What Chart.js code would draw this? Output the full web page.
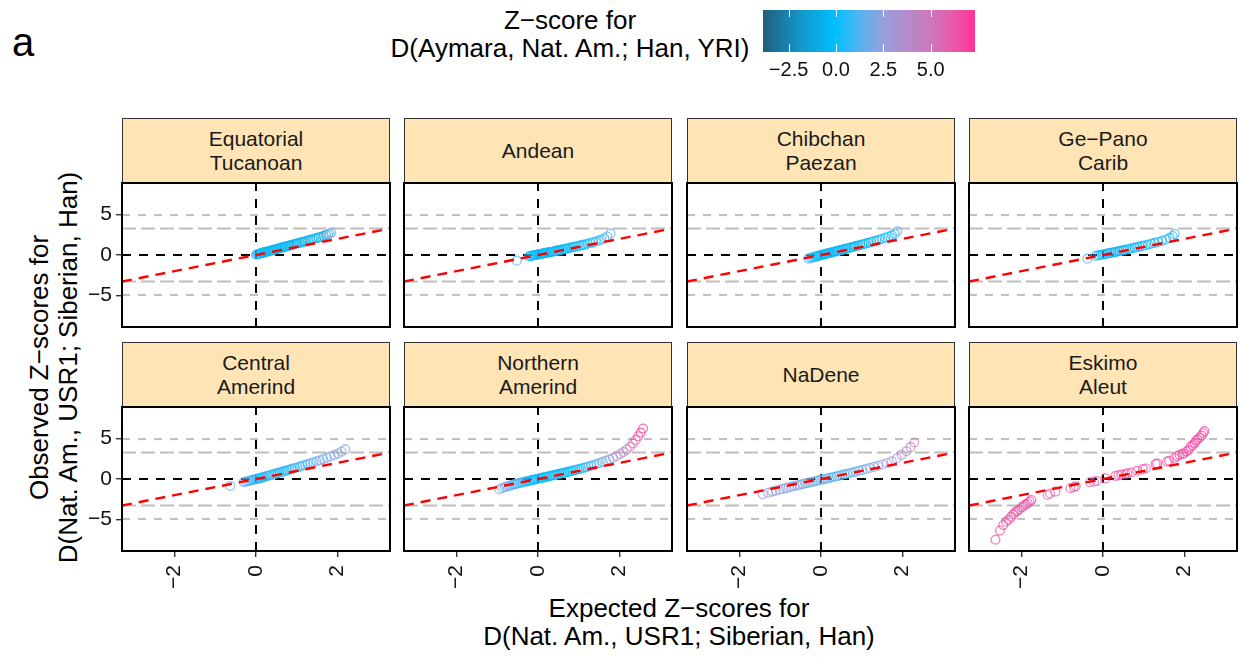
<!DOCTYPE html>
<html>
<head>
<meta charset="utf-8">
<title>Observed vs expected Z-scores by language group</title>
<script src="https://cdn.jsdelivr.net/npm/chart.js@4.4.1/dist/chart.umd.min.js"></script>
<style>
  html, body { margin: 0; padding: 0; background: #fff; }
  body { width: 1241px; height: 658px; position: relative; overflow: hidden;
         font-family: "Liberation Sans", Arial, Helvetica, sans-serif; color: #1a1a1a; }
  canvas { position: absolute; }
  .strip { position: absolute; box-sizing: border-box; background: #FFE4B5; border: 1px solid #333;
           display: flex; flex-direction: column; align-items: center; justify-content: center;
           font-size: 21px; line-height: 24px; color: #1a1a1a; text-align: center; white-space: nowrap; }
  .txt { position: absolute; white-space: nowrap; text-align: center; color: #000; }
</style>
</head>
<body>
<div class="txt" style="left:12px; top:22px; font-size:40px; line-height:40px; text-align:left;">a</div>
<div class="txt" style="left:360px; top:6px; width:420px; font-size:26px; line-height:28px;">Z−score for<br>D(Aymara, Nat. Am.; Han, YRI)</div>
<div class="txt" style="left:379px; top:595px; width:600px; font-size:26px; line-height:27.5px;">Expected Z−scores for<br>D(Nat. Am., USR1; Siberian, Han)</div>
<div class="txt" style="left:-197px; top:338.5px; width:500px; height:57px; font-size:26px; line-height:28.5px; transform:rotate(-90deg);">Observed Z−scores for<br>D(Nat. Am., USR1; Siberian, Han)</div>

<script>
// ---------------- data ----------------
const groupNames = [
  ['Equatorial', 'Tucanoan'], ['Andean'], ['Chibchan', 'Paezan'], ['Ge−Pano', 'Carib'],
  ['Central', 'Amerind'], ['Northern', 'Amerind'], ['NaDene'], ['Eskimo', 'Aleut']
];

// expected Z (x), observed Z (y), Aymara Z-score (colour) per group
const expEquTuc = [0.00,0.02,0.04,0.06,0.08,0.10,0.12,0.14,0.16,0.18,0.20,0.22,0.24,0.26,0.29,0.31,0.33,0.35,0.38,0.40,0.42,0.45,0.47,0.50,0.52,0.55,0.57,0.60,0.63,0.65,0.68,0.71,0.74,0.77,0.80,0.83,0.86,0.89,0.93,0.96,1.00,1.03,1.07,1.11,1.15,1.19,1.23,1.28,1.33,1.38,1.43,1.48,1.54,1.60,1.66,1.72,1.77,1.81,1.85];
const obsEquTuc = [0.03,0.07,0.10,0.13,0.15,0.18,0.21,0.24,0.26,0.29,0.32,0.35,0.37,0.40,0.44,0.47,0.50,0.53,0.57,0.59,0.62,0.66,0.69,0.73,0.76,0.80,0.83,0.87,0.91,0.94,0.98,1.02,1.06,1.10,1.14,1.18,1.22,1.26,1.32,1.36,1.42,1.46,1.51,1.57,1.62,1.68,1.73,1.80,1.87,1.94,2.01,2.09,2.18,2.27,2.37,2.48,2.58,2.67,2.78];
const colEquTuc = [1.6,1.2,0.8,0.5,0.2,0.4,-0.1,0.3,0.0,-0.4,0.2,-0.2,0.4,-0.6,0.1,-0.3,0.3,-0.8,0.0,0.2,-0.5,0.3,-0.2,-1.0,0.1,-0.4,0.4,-0.7,0.0,-0.3,0.2,-1.2,-0.1,0.3,-0.6,0.0,-0.9,0.2,-0.4,0.1,-1.4,-0.2,0.3,-0.7,0.0,-1.1,0.2,-0.5,-1.8,0.1,-0.8,-0.3,-1.5,0.2,-1.0,-2.0,0.6,1.4,2.4];

const expAndean = [-0.52,-0.22,-0.19,-0.16,-0.13,-0.10,-0.08,-0.06,-0.04,-0.02,0.00,0.02,0.04,0.06,0.08,0.10,0.12,0.14,0.16,0.18,0.20,0.23,0.26,0.29,0.32,0.35,0.38,0.41,0.44,0.47,0.50,0.53,0.56,0.60,0.63,0.67,0.70,0.74,0.78,0.82,0.86,0.90,0.95,1.00,1.05,1.10,1.16,1.22,1.28,1.35,1.42,1.49,1.56,1.63,1.70,1.78];
const obsAndean = [-0.70,-0.15,-0.12,-0.09,-0.06,-0.03,-0.01,0.01,0.03,0.04,0.06,0.08,0.10,0.12,0.14,0.16,0.18,0.20,0.22,0.24,0.26,0.29,0.32,0.35,0.38,0.41,0.44,0.47,0.51,0.54,0.57,0.60,0.63,0.68,0.71,0.76,0.79,0.84,0.88,0.93,0.97,1.02,1.08,1.13,1.19,1.25,1.32,1.40,1.48,1.57,1.67,1.78,1.92,2.08,2.30,2.68];
const colAndean = [1.3,0.5,0.2,-0.1,0.3,0.0,-0.3,0.4,0.1,-0.2,0.2,0.5,-0.4,0.1,0.3,-0.1,0.4,-0.6,0.2,0.0,0.5,-0.3,0.2,0.4,-0.8,0.1,0.3,-0.2,0.5,-0.5,0.2,0.0,0.4,-0.7,0.2,-0.1,0.5,-0.4,0.3,0.1,-0.9,0.4,-0.2,0.2,0.6,-0.5,0.3,0.0,0.7,-0.3,0.5,0.9,0.4,1.1,1.3,1.6];

const expChiPae = [-0.31,-0.26,-0.22,-0.18,-0.15,-0.12,-0.09,-0.06,-0.04,-0.01,0.01,0.04,0.06,0.09,0.11,0.14,0.16,0.19,0.21,0.24,0.27,0.30,0.33,0.36,0.39,0.42,0.45,0.48,0.52,0.55,0.59,0.62,0.66,0.70,0.74,0.78,0.82,0.86,0.91,0.96,1.01,1.06,1.11,1.17,1.23,1.29,1.36,1.43,1.50,1.58,1.66,1.74,1.81,1.87];
const obsChiPae = [-0.45,-0.38,-0.32,-0.27,-0.23,-0.18,-0.14,-0.10,-0.07,-0.03,0.00,0.04,0.06,0.10,0.13,0.17,0.19,0.23,0.25,0.29,0.33,0.37,0.41,0.45,0.49,0.53,0.57,0.61,0.66,0.70,0.75,0.79,0.84,0.89,0.94,0.99,1.05,1.10,1.17,1.23,1.30,1.37,1.44,1.52,1.60,1.69,1.79,1.90,2.01,2.14,2.28,2.45,2.65,2.95];
const colChiPae = [1.4,1.1,0.9,0.6,0.3,0.5,0.1,0.4,-0.2,0.3,0.0,0.5,-0.3,0.2,0.4,-0.5,0.1,0.3,-0.1,0.5,-0.4,0.2,0.0,0.4,-0.7,0.1,0.3,-0.2,0.5,-0.5,0.2,-0.9,0.0,0.4,-0.3,0.1,-1.1,0.3,-0.4,0.2,-0.8,0.0,0.4,-1.3,-0.2,0.3,-0.6,-1.0,0.1,-0.4,0.3,-0.7,0.5,1.2];

const expGePano = [-0.38,-0.18,-0.12,-0.07,-0.03,0.00,0.04,0.08,0.12,0.16,0.20,0.24,0.28,0.32,0.37,0.41,0.46,0.51,0.56,0.61,0.66,0.72,0.78,0.84,0.90,0.97,1.04,1.11,1.19,1.27,1.36,1.45,1.55,1.64,1.71,1.76];
const obsGePano = [-0.45,-0.10,-0.05,0.00,0.04,0.07,0.11,0.15,0.19,0.23,0.27,0.31,0.35,0.39,0.45,0.49,0.55,0.60,0.66,0.72,0.77,0.84,0.91,0.98,1.05,1.13,1.21,1.30,1.40,1.50,1.62,1.75,1.92,2.12,2.35,2.62];
const colGePano = [1.4,0.8,0.5,0.2,0.6,-0.1,0.4,0.3,-0.4,0.5,0.2,0.6,-0.6,0.1,0.4,-0.9,0.3,-0.5,0.2,0.5,-0.3,0.4,-1.1,0.1,0.3,-0.7,0.2,-0.2,0.5,-1.0,0.3,-0.4,0.6,0.2,0.7,1.0];

const expCenAme = [-0.63,-0.30,-0.25,-0.21,-0.17,-0.13,-0.09,-0.05,-0.02,0.02,0.05,0.09,0.12,0.16,0.19,0.23,0.27,0.30,0.34,0.38,0.42,0.46,0.50,0.54,0.58,0.62,0.67,0.71,0.76,0.81,0.86,0.91,0.96,1.02,1.08,1.14,1.20,1.27,1.34,1.41,1.49,1.57,1.65,1.74,1.83,1.92,2.01,2.10,2.19];
const obsCenAme = [-0.86,-0.38,-0.33,-0.28,-0.23,-0.18,-0.13,-0.08,-0.04,0.01,0.05,0.10,0.14,0.20,0.24,0.30,0.36,0.40,0.46,0.52,0.57,0.63,0.69,0.75,0.81,0.87,0.94,1.00,1.07,1.15,1.22,1.30,1.37,1.46,1.55,1.64,1.74,1.85,1.96,2.07,2.20,2.33,2.47,2.63,2.80,2.98,3.17,3.40,3.67];
const colCenAme = [2.0,1.6,1.9,1.2,1.5,0.9,1.3,0.6,1.0,0.4,0.8,0.2,0.7,0.5,0.1,0.9,0.3,1.2,0.4,0.6,1.4,0.2,0.8,0.0,0.5,1.1,0.3,0.7,-0.2,0.9,0.4,1.3,0.6,1.6,0.2,1.0,1.8,0.5,1.4,2.0,1.1,1.7,2.3,1.5,2.1,2.6,1.9,2.4,2.2];

const expNorAme = [-0.95,-0.88,-0.82,-0.77,-0.72,-0.67,-0.62,-0.58,-0.54,-0.50,-0.46,-0.42,-0.38,-0.34,-0.30,-0.27,-0.23,-0.20,-0.16,-0.13,-0.09,-0.06,-0.02,0.01,0.05,0.08,0.12,0.15,0.19,0.22,0.26,0.29,0.33,0.37,0.40,0.44,0.48,0.52,0.56,0.60,0.64,0.68,0.73,0.77,0.82,0.86,0.91,0.96,1.01,1.06,1.12,1.18,1.24,1.30,1.37,1.44,1.51,1.59,1.67,1.75,1.84,1.93,2.02,2.10,2.18,2.26,2.33,2.40,2.46,2.52,2.58];
const obsNorAme = [-1.27,-1.12,-1.02,-0.94,-0.86,-0.79,-0.72,-0.66,-0.61,-0.56,-0.51,-0.46,-0.41,-0.36,-0.32,-0.28,-0.24,-0.20,-0.16,-0.12,-0.08,-0.04,0.00,0.04,0.09,0.12,0.17,0.20,0.25,0.28,0.33,0.36,0.41,0.46,0.49,0.54,0.58,0.63,0.68,0.72,0.77,0.82,0.88,0.93,0.99,1.04,1.10,1.17,1.23,1.30,1.38,1.46,1.55,1.64,1.75,1.86,1.98,2.12,2.27,2.43,2.62,2.85,3.10,3.35,3.65,4.00,4.40,4.85,5.30,5.75,6.26];
const colNorAme = [2.3,1.9,2.1,1.6,1.8,1.4,1.7,1.2,1.5,1.0,1.3,0.8,1.1,0.6,0.9,0.4,0.7,0.2,0.5,0.0,0.4,-0.2,0.3,0.1,-0.4,0.3,0.0,0.5,-0.3,0.2,0.4,-0.1,0.2,-0.5,0.3,0.1,-0.2,0.4,0.0,-0.6,0.2,0.5,-0.3,0.1,0.3,-0.4,0.2,0.6,0.0,0.4,0.7,0.3,0.9,0.6,1.1,1.4,1.2,1.7,2.0,2.4,2.9,3.3,3.8,4.3,4.8,5.2,5.6,6.0,6.4,6.8,7.1];

const expNaDene = [-1.43,-1.30,-1.20,-1.11,-1.02,-0.94,-0.86,-0.79,-0.72,-0.65,-0.58,-0.52,-0.45,-0.39,-0.33,-0.27,-0.21,-0.15,-0.09,-0.03,0.03,0.09,0.15,0.21,0.27,0.33,0.39,0.45,0.52,0.58,0.65,0.72,0.79,0.86,0.94,1.02,1.11,1.20,1.30,1.40,1.51,1.62,1.74,1.86,1.98,2.10,2.20,2.29];
const obsNaDene = [-1.89,-1.70,-1.56,-1.44,-1.33,-1.23,-1.13,-1.04,-0.95,-0.87,-0.79,-0.71,-0.63,-0.56,-0.49,-0.42,-0.35,-0.28,-0.21,-0.14,-0.07,0.00,0.07,0.14,0.21,0.28,0.35,0.42,0.50,0.58,0.66,0.75,0.84,0.93,1.03,1.13,1.25,1.37,1.50,1.64,1.80,1.98,2.18,2.55,3.00,3.45,3.95,4.53];
const colNaDene = [2.6,2.3,2.8,2.4,2.1,2.6,2.2,2.5,1.9,2.3,2.0,2.4,1.8,2.2,1.7,2.1,1.6,2.0,1.5,1.9,1.4,1.8,1.3,1.7,1.2,1.6,1.1,1.5,1.0,1.4,1.2,1.6,1.3,1.8,1.5,2.0,1.7,2.2,1.9,2.4,2.6,2.9,3.2,3.5,3.8,4.1,4.4,4.8];

const expEskAle = [-2.64,-2.53,-2.45,-2.38,-2.32,-2.26,-2.20,-2.15,-2.10,-2.05,-2.00,-1.95,-1.90,-1.85,-1.80,-1.76,-1.36,-1.30,-1.17,-0.80,-0.72,-0.67,-0.32,-0.22,-0.15,0.06,0.30,0.38,0.45,0.55,0.60,0.70,0.84,0.98,1.05,1.29,1.33,1.57,1.62,1.75,1.82,1.88,1.95,1.98,2.05,2.10,2.15,2.20,2.25,2.28,2.32,2.37,2.42,2.46,2.49];
const obsEskAle = [-7.53,-6.40,-5.70,-5.30,-5.06,-4.70,-4.36,-4.10,-3.95,-3.75,-3.50,-3.35,-3.15,-3.00,-2.80,-2.60,-1.98,-1.80,-1.56,-1.15,-1.03,-0.90,-0.40,-0.33,-0.25,0.08,0.37,0.45,0.55,0.62,0.70,0.80,1.03,1.23,1.30,1.85,1.92,2.14,2.25,2.60,2.84,3.00,3.10,3.17,3.40,3.60,4.00,4.20,4.45,4.73,4.90,5.14,5.40,5.70,5.96];
const colEskAle = [6.8,6.5,7.0,6.2,6.9,6.6,7.1,6.4,6.8,6.0,6.7,6.3,7.0,6.5,6.1,6.8,5.2,5.6,5.9,6.2,5.8,6.5,5.4,6.0,5.7,6.3,6.6,6.1,6.9,6.4,6.7,6.2,6.5,6.8,6.0,6.4,6.9,6.3,6.6,6.1,6.8,6.5,7.0,6.2,6.7,6.4,6.9,6.6,7.1,6.3,6.8,6.5,7.0,6.7,6.9];

// axis limits, reference levels and colour scale
const expectedLimits = [-3.29, 3.29];
const observedLimits = [-8.93, 8.93];
const expectedStep = 2;
const observedStep = 5;
const zeroLevel = 0;
const longDashLevels = [-3.29, 3.29];
const shortDashLevels = [-4.95, 4.95];
const identityEnds = [-3.29, 3.29];
const colourLimits = [-3.85, 7.34];
const colourStep = 2.5;
const colourStopValues = [-3.85, -1.9, 0, 1.25, 2.5, 3.75, 5.0, 6.2, 7.34];
const colourStopHexes = ['#215E7E', '#1496C8', '#00BFFF', '#55B3F0', '#979FDC', '#B48BCC', '#CD77BB', '#E85AA8', '#FF3399'];

const panelSeries = [
  [expEquTuc, obsEquTuc, colEquTuc], [expAndean, obsAndean, colAndean],
  [expChiPae, obsChiPae, colChiPae], [expGePano, obsGePano, colGePano],
  [expCenAme, obsCenAme, colCenAme], [expNorAme, obsNorAme, colNorAme],
  [expNaDene, obsNaDene, colNaDene], [expEskAle, obsEskAle, colEskAle]
];

// ---------------- layout ----------------
const PANEL_LEFT0 = 121.7, PANEL_STEP_X = 282.4, PANEL_W = 268, PANEL_H = 144;
const PANEL_TOP = [183, 407], STRIP_TOP = [118, 342];
const PAD = 20, Y_AXIS_W = 52, X_AXIS_H = 45;
const FONT = '"Liberation Sans", Arial, Helvetica, sans-serif';
Chart.defaults.font.family = FONT;
Chart.defaults.animation = false;

const minusSign = v => String(v).replace('-', '\u2212');

function hexRgb(h) {
  const n = parseInt(h.slice(1), 16);
  return [(n >> 16) & 255, (n >> 8) & 255, n & 255];
}
function colourFor(v, alpha) {
  const vs = colourStopValues;
  let k = 0;
  while (k < vs.length - 2 && v > vs[k + 1]) k++;
  const t = Math.max(0, Math.min(1, (v - vs[k]) / (vs[k + 1] - vs[k])));
  const a = hexRgb(colourStopHexes[k]), b = hexRgb(colourStopHexes[k + 1]);
  const c = a.map((x, j) => Math.round(x + (b[j] - x) * t));
  return `rgba(${c[0]},${c[1]},${c[2]},${alpha})`;
}

// dashed reference lines and the panel frame
const referencePlugin = {
  id: 'referenceLines',
  beforeDatasetsDraw(chart) {
    const { ctx, chartArea: a, scales: { x, y } } = chart;
    ctx.save();
    ctx.beginPath(); ctx.rect(a.left, a.top, a.right - a.left, a.bottom - a.top); ctx.clip();
    const hline = (v, colour, dash, w) => {
      const py = y.getPixelForValue(v);
      ctx.strokeStyle = colour; ctx.lineWidth = w; ctx.setLineDash(dash);
      ctx.beginPath(); ctx.moveTo(a.left, py); ctx.lineTo(a.right, py); ctx.stroke();
    };
    shortDashLevels.forEach(v => hline(v, '#BEBEBE', [8, 8], 2));
    longDashLevels.forEach(v => hline(v, '#BEBEBE', [14, 5], 2));
    hline(zeroLevel, '#000', [9, 8], 2);
    const px = x.getPixelForValue(zeroLevel);
    ctx.strokeStyle = '#000'; ctx.lineWidth = 2; ctx.setLineDash([9, 8]);
    ctx.beginPath(); ctx.moveTo(px, a.bottom); ctx.lineTo(px, a.top); ctx.stroke();
    ctx.restore();
  },
  afterDraw(chart) {
    const { ctx, chartArea: a } = chart;
    ctx.save();
    ctx.strokeStyle = '#000'; ctx.lineWidth = 2; ctx.setLineDash([]);
    ctx.strokeRect(a.left, a.top, a.right - a.left, a.bottom - a.top);
    ctx.restore();
  }
};

function buildPanel(i) {
  const col = i % 4, row = Math.floor(i / 4);
  const showY = col === 0, showX = row === 1;
  const left = Math.round(PANEL_LEFT0 + col * PANEL_STEP_X);
  const top = PANEL_TOP[row];

  // strip label
  const strip = document.createElement('div');
  strip.className = 'strip';
  strip.style.left = left + 'px';
  strip.style.top = STRIP_TOP[row] + 'px';
  strip.style.width = PANEL_W + 'px';
  strip.style.height = (top - STRIP_TOP[row] + 1) + 'px';
  groupNames[i].forEach(line => {
    const d = document.createElement('div'); d.textContent = line; strip.appendChild(d);
  });
  document.body.appendChild(strip);

  const cv = document.createElement('canvas');
  const cw = PANEL_W + 2 * PAD + (showY ? Y_AXIS_W : 0);
  const ch = PANEL_H + 2 * PAD + (showX ? X_AXIS_H : 0);
  cv.width = cw; cv.height = ch;
  cv.style.width = cw + 'px'; cv.style.height = ch + 'px';
  cv.style.left = (left - PAD - (showY ? Y_AXIS_W : 0)) + 'px';
  cv.style.top = (top - PAD) + 'px';
  document.body.appendChild(cv);

  const [xs, ys, cs] = panelSeries[i];
  const points = xs.map((v, k) => ({ x: v, y: ys[k] }));
  const colours = cs.map(v => colourFor(v, 0.72));

  new Chart(cv, {
    type: 'scatter',
    data: {
      datasets: [
        {
          type: 'line', order: 0, clip: 0,
          data: identityEnds.map(v => ({ x: v, y: v })),
          borderColor: '#FF0000', borderWidth: 2.4, borderDash: [10, 7],
          pointRadius: 0, showLine: true, fill: false
        },
        {
          order: 1,
          data: points,
          pointStyle: 'circle', pointRadius: 4.4, pointBorderWidth: 1.3,
          pointBackgroundColor: 'rgba(0,0,0,0)', pointBorderColor: colours,
          pointHoverRadius: 4.4
        }
      ]
    },
    options: {
      responsive: false,
      animation: false,
      layout: { padding: PAD },
      plugins: { legend: { display: false }, tooltip: { enabled: false } },
      events: [],
      scales: {
        x: {
          type: 'linear', min: expectedLimits[0], max: expectedLimits[1], display: showX,
          grid: { display: true, drawOnChartArea: false, drawTicks: true, tickLength: 6, color: '#333', lineWidth: 1.4 },
          border: { display: false },
          ticks: { stepSize: expectedStep, includeBounds: false, minRotation: 90, maxRotation: 90,
                   font: { size: 21 }, color: '#111', padding: 8, callback: v => minusSign(v) },
          afterFit: s => { if (showX) s.height = X_AXIS_H; }
        },
        y: {
          type: 'linear', min: observedLimits[0], max: observedLimits[1], display: showY,
          grid: { display: true, drawOnChartArea: false, drawTicks: true, tickLength: 6, color: '#333', lineWidth: 1.4 },
          border: { display: false },
          ticks: { stepSize: observedStep, includeBounds: false, font: { size: 21 }, color: '#111', padding: 4,
                   callback: v => minusSign(v) },
          afterFit: s => { if (showY) s.width = Y_AXIS_W; }
        }
      }
    },
    plugins: [referencePlugin]
  });
}

panelSeries.forEach((_, i) => buildPanel(i));

// ---------------- colour bar ----------------
(function buildColourBar() {
  const barLeft = 763, barTop = 10, barW = 212, barH = 42, axisH = 34;
  const cv = document.createElement('canvas');
  const cw = barW + 2 * PAD, ch = PAD + barH + axisH;
  cv.width = cw; cv.height = ch;
  cv.style.width = cw + 'px'; cv.style.height = ch + 'px';
  cv.style.left = (barLeft - PAD) + 'px';
  cv.style.top = (barTop - PAD) + 'px';
  document.body.appendChild(cv);

  const gradientPlugin = {
    id: 'gradientBar',
    beforeDatasetsDraw(chart) {
      const { ctx, chartArea: a, scales: { x } } = chart;
      const g = ctx.createLinearGradient(a.left, 0, a.right, 0);
      colourStopValues.forEach((v, k) => {
        g.addColorStop((x.getPixelForValue(v) - a.left) / (a.right - a.left), colourStopHexes[k]);
      });
      ctx.save();
      ctx.fillStyle = g;
      ctx.fillRect(a.left, a.top, a.right - a.left, a.bottom - a.top);
      ctx.strokeStyle = '#fff'; ctx.lineWidth = 1;
      x.ticks.forEach(t => {
        const px = Math.round(x.getPixelForValue(t.value)) + 0.5;
        ctx.beginPath();
        ctx.moveTo(px, a.top); ctx.lineTo(px, a.top + 7);
        ctx.moveTo(px, a.bottom - 8); ctx.lineTo(px, a.bottom);
        ctx.stroke();
      });
      ctx.restore();
    }
  };

  new Chart(cv, {
    type: 'scatter',
    data: { datasets: [] },
    options: {
      responsive: false,
      animation: false,
      events: [],
      layout: { padding: { left: PAD, right: PAD, top: PAD, bottom: 0 } },
      plugins: { legend: { display: false }, tooltip: { enabled: false } },
      scales: {
        x: {
          type: 'linear', min: colourLimits[0], max: colourLimits[1],
          grid: { display: false, drawTicks: false }, border: { display: false },
          ticks: { stepSize: colourStep, includeBounds: false, font: { size: 20 }, color: '#111', padding: 6,
                   maxRotation: 0, callback: v => minusSign(v.toFixed(1)) },
          afterFit: s => { s.height = axisH; }
        },
        y: { type: 'linear', min: 0, max: 1, display: false }
      }
    },
    plugins: [gradientPlugin]
  });
})();
</script>
</body>
</html>
